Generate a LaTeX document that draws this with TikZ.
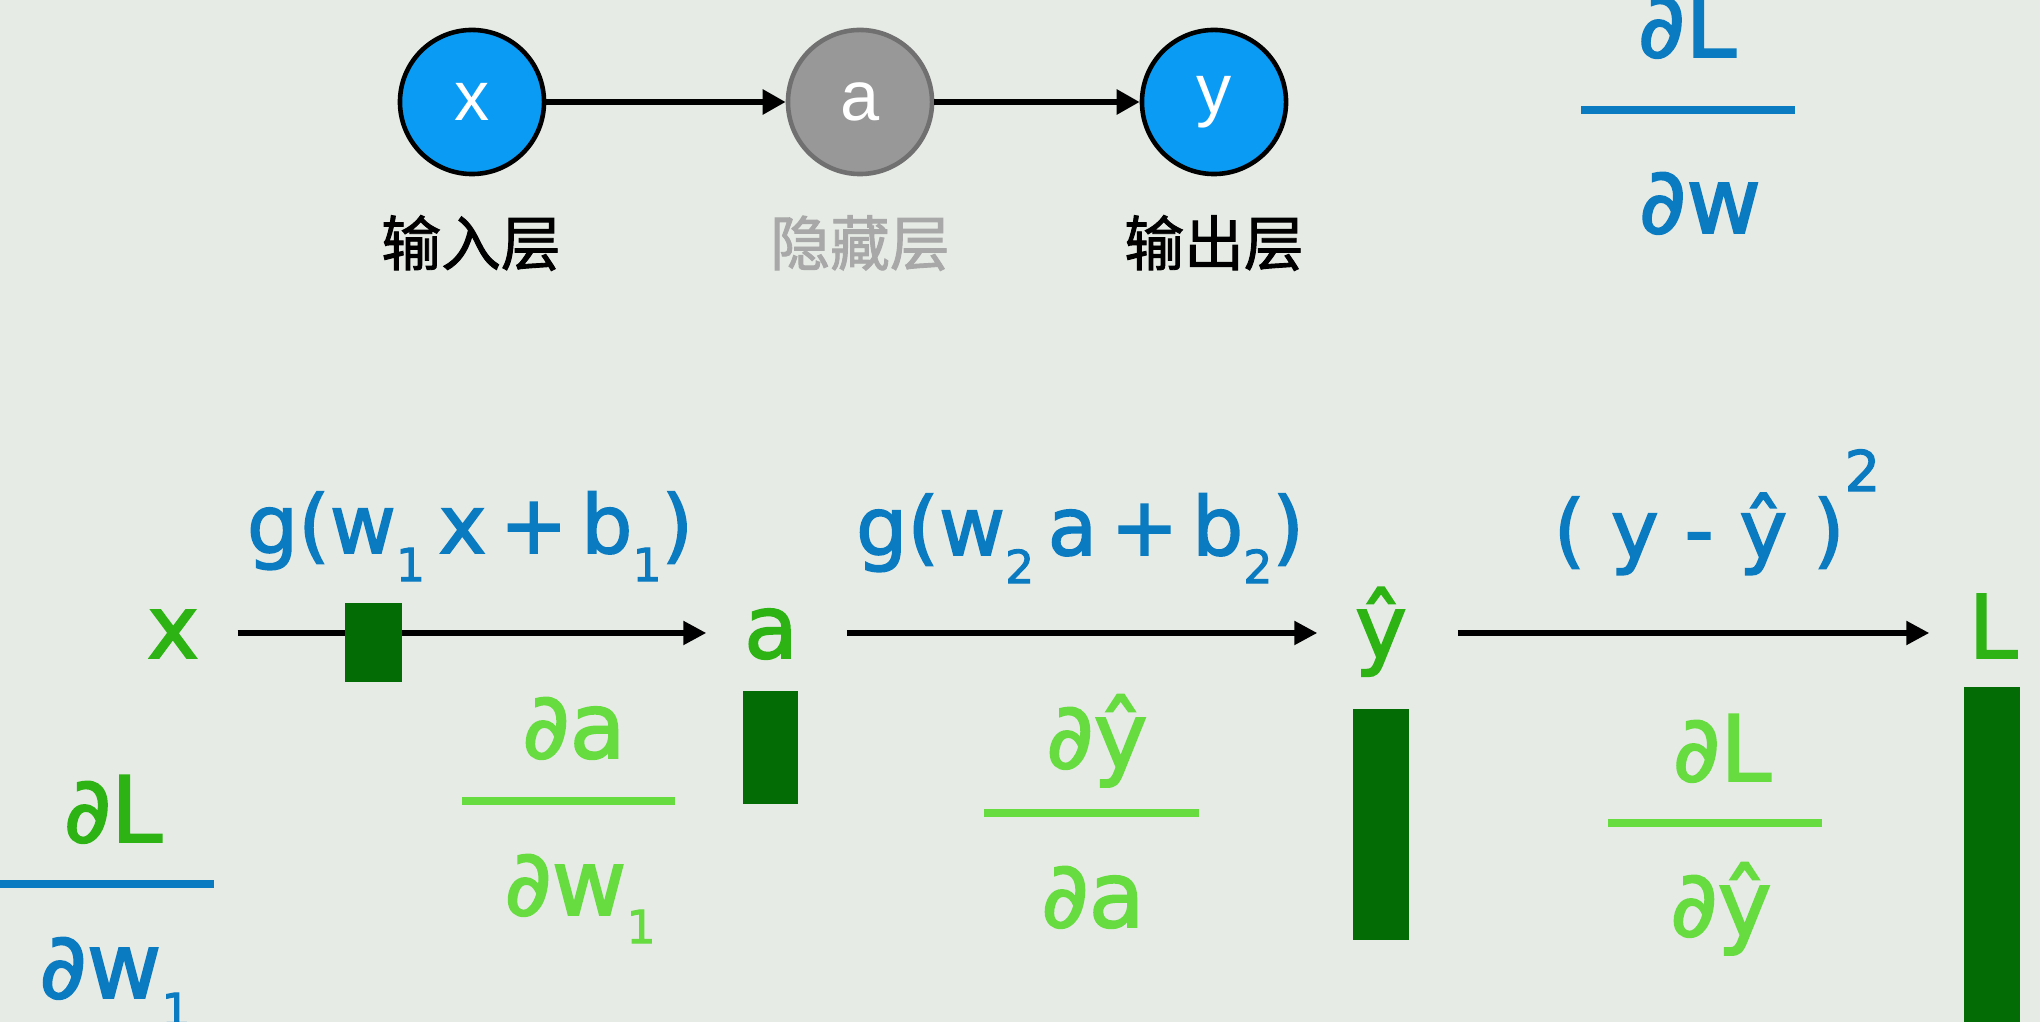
\documentclass[tikz,border=0pt]{standalone}
\usepackage{fontspec}
\setmainfont{DejaVu Sans}[RawFeature={embolden=2}]
\newfontfamily\cjkfont{Noto Sans CJK SC}[RawFeature={embolden=1.5}]
\newfontfamily\arialfont{Liberation Sans}
\usetikzlibrary{arrows.meta}
\definecolor{bgc}{RGB}{230,235,229}
\definecolor{fblue}{RGB}{11,123,193}
\definecolor{cblue}{RGB}{10,155,245}
\definecolor{cgray}{RGB}{152,152,152}
\definecolor{cgrayd}{RGB}{112,112,112}
\definecolor{lgreen}{RGB}{45,180,20}
\definecolor{pgreen}{RGB}{102,220,64}
\definecolor{dgreen}{RGB}{4,108,4}
\definecolor{hidgray}{RGB}{168,168,168}
\newcommand\lowsub[1]{\raisebox{-8pt}{\fontsize{13pt}{13pt}\selectfont #1}}
\tikzset{
  circ/.style={circle, draw=black, line width=1.3pt, minimum size=1.44cm, inner sep=0pt, text=white, font=\arialfont\fontsize{20pt}{20pt}\selectfont},
  cjklab/.style={inner sep=0pt, font=\cjkfont\fontsize{17pt}{17pt}\selectfont},
  toparr/.style={-{Triangle[length=0.23cm,width=0.24cm]}, line width=1.6pt, black},
  mainarr/.style={-{Triangle[length=0.23cm,width=0.23cm]}, line width=1.5pt, black},
  lab/.style={inner sep=0pt, anchor=base, text height=0.5cm, text depth=0cm, minimum width=0.6cm, text=lgreen, font=\fontsize{25pt}{25pt}\selectfont},
  formula/.style={inner sep=0pt, anchor=base, text=fblue, font=\fontsize{23pt}{23pt}\selectfont},
  fracpart/.style={inner sep=0pt, anchor=base, font=\fontsize{26pt}{26pt}\selectfont},
  fbar/.style={inner sep=0pt, minimum height=0.08cm, minimum width=#1},
  gbox/.style={fill=dgreen, inner sep=0pt}
}
\begin{document}
\begin{tikzpicture}[x=0.01cm,y=-0.01cm]
\useasboundingbox (0,0) rectangle (2040,1022);
\fill[bgc] (0,0) rectangle (2040,1022);

% top network
\node[circ, fill=cblue] (nx) at (472,102) {x};
\node[circ, fill=cgray, draw=cgrayd] (na) at (860,102) {a};
\node[circ, fill=cblue] (ny) at (1214,102) {y};
\draw[toparr] (nx) -- (na);
\draw[toparr] (na) -- (ny);
\node[cjklab] (lx) at (471,243) {输入层};
\node[cjklab, text=hidgray] (la) at (860,243) {隐藏层};
\node[cjklab] (ly) at (1214,243) {输出层};

% top-right fraction
\node[fracpart, text=fblue] (trn) at (1687,57) {∂L};
\node[fbar=2.13cm, fill=fblue] (trb) at (1688,110) {};
\node[fracpart, text=fblue] (trd) at (1700,233) {∂w};

% main row labels
\node[lab] (mx) at (173,658) {x};
\node[lab] (ma) at (771,658) {a};
\node[lab] (my) at (1381,658) {ŷ};
\node[lab] (mL) at (1993,658) {L};

\draw[mainarr, shorten <=0.34cm, shorten >=0.34cm] (mx.east) -- (ma.west);
\draw[mainarr, shorten <=0.45cm, shorten >=0.33cm] (ma.east) -- (my.west);
\draw[mainarr, shorten <=0.46cm, shorten >=0.33cm] (my.east) -- (mL.west);

% formulas
\node[formula] (g1) at (470,553) {g(w\lowsub{1}\,x\,+\,b\lowsub{1})};
\node[formula] (g2) at (1080,555) {g(w\lowsub{2}\,a\,+\,b\lowsub{2})};
\node[formula] (loss) at (1717,558) {( y - ŷ )\raisebox{19pt}{\fontsize{16pt}{16pt}\selectfont 2}};

% dark green bars
\node[gbox, minimum width=0.57cm, minimum height=0.79cm] (r1) at (373.5,642.5) {};
\node[gbox, minimum width=0.55cm, minimum height=1.13cm] (r2) at (770.5,747.5) {};
\node[gbox, minimum width=0.56cm, minimum height=2.31cm] (r3) at (1381,824.5) {};
\node[gbox, minimum width=0.56cm, minimum height=3.35cm] (r4) at (1992,854.5) {};

% fraction da/dw1
\node[fracpart, text=pgreen] (f1n) at (574,758) {∂a};
\node[fbar=2.13cm, fill=pgreen] (f1b) at (568.5,801) {};
\node[fracpart, text=pgreen] (f1d) at (580,915) {∂w\lowsub{1}};

% left fraction dL/dw1
\node[fracpart, text=lgreen] (f0n) at (113,842) {∂L};
\node[fbar=2.14cm, fill=fblue] (f0b) at (107,884) {};
\node[fracpart, text=fblue] (f0d) at (115,998) {∂w\lowsub{1}};

% fraction dyhat/da
\node[fracpart, text=pgreen] (f2n) at (1097,768) {∂ŷ};
\node[fbar=2.15cm, fill=pgreen] (f2b) at (1091.5,813) {};
\node[fracpart, text=pgreen] (f2d) at (1093,927) {∂a};

% fraction dL/dyhat
\node[fracpart, text=pgreen] (f3n) at (1722,781) {∂L};
\node[fbar=2.14cm, fill=pgreen] (f3b) at (1715,823) {};
\node[fracpart, text=pgreen] (f3d) at (1721,936) {∂ŷ};
\end{tikzpicture}
\end{document}
